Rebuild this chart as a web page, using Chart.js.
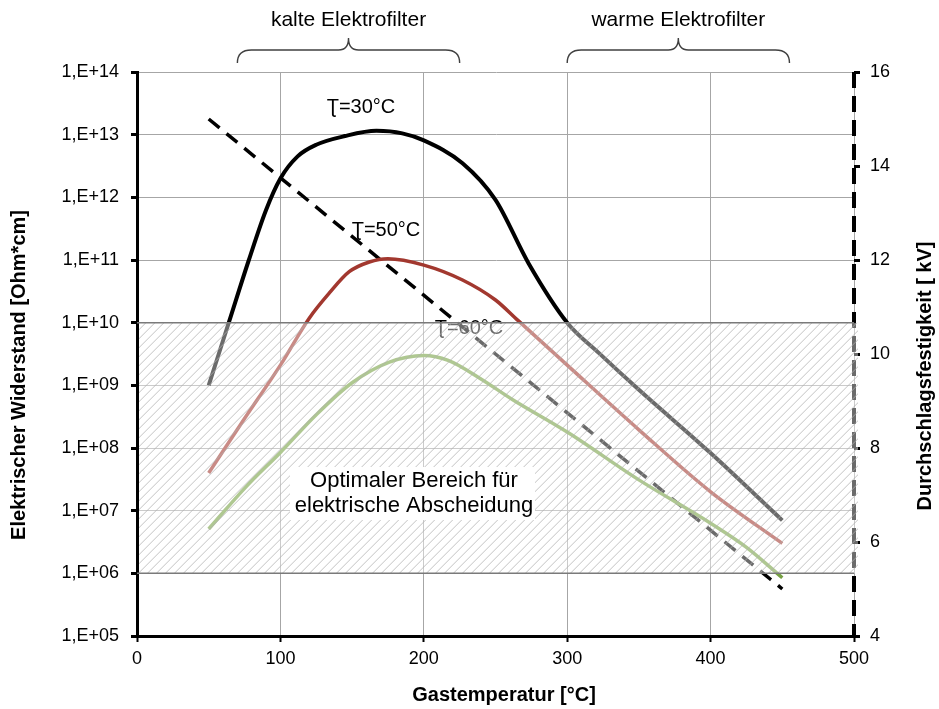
<!DOCTYPE html>
<html>
<head>
<meta charset="utf-8">
<script src="https://cdn.jsdelivr.net/npm/chart.js@4.4.1/dist/chart.umd.min.js"></script>
<style>
  body { margin: 0; background: #fff; }
  #wrap { width: 939px; height: 709px; }
</style>
</head>
<body>
<div id="wrap"><canvas id="chart" width="939" height="709"></canvas></div>
<script>
// Gastemperatur [°C] / Widerstand [Ohm*cm]
const temp30 = [50, 64, 78, 90, 100, 112, 125, 145, 167, 185, 200, 227, 250, 273, 300, 322, 350, 400, 450];
const res30  = [1.0e9, 1.0e10, 1.0e11, 6.3e11, 2.0e12, 4.5e12, 6.9e12, 9.5e12, 1.15e13, 1.05e13, 8.1e12, 3.5e12, 9.1e11, 8.9e10, 1.0e10, 3.3e9, 8.5e8, 8.3e7, 7.0e6];

const temp50 = [50, 75, 100, 120, 134, 148, 162, 175, 200, 227, 250, 265, 300, 350, 400, 450];
const res50  = [4.0e7, 2.95e8, 2.1e9, 1.17e10, 2.95e10, 6.5e10, 9.3e10, 1.05e11, 8.3e10, 4.8e10, 2.3e10, 1.12e10, 2.1e9, 1.95e8, 2.0e7, 3.0e6];

const temp60 = [50, 76, 100, 125, 150, 176, 200, 217, 239, 262, 300, 350, 400, 425, 450];
const res60  = [5.1e6, 2.4e7, 8.5e7, 3.4e8, 1.1e9, 2.35e9, 3.0e9, 2.5e9, 1.3e9, 5.9e8, 1.8e8, 3.1e7, 6.3e6, 2.6e6, 8.5e5];

// Durchschlagsfestigkeit [kV]
const tempKV = [50, 450];
const kV     = [15, 5];

const seriesLabels = ['Ʈ=30°C', 'Ʈ=50°C', 'Ʈ=60°C'];
const logTicks = [1e5, 1e6, 1e7, 1e8, 1e9, 1e10, 1e11, 1e12, 1e13, 1e14];
const optimalRange = [1e6, 1e10];
const kalteRange = [70, 225];
const warmeRange = [300, 455];

const FONT = "'Liberation Sans', Arial, sans-serif";
Chart.defaults.font.family = FONT;
Chart.defaults.color = '#000';

function pairs(xs, ys) {
    return xs.map((x, i) => ({ x: x, y: ys[i] }));
}

function brace(ctx, x1, x2) {
    const mid = (x1 + x2) / 2;
    ctx.beginPath();
    ctx.moveTo(x1, 63);
    ctx.quadraticCurveTo(x1, 50, x1 + 14, 50);
    ctx.lineTo(mid - 10, 50);
    ctx.quadraticCurveTo(mid, 50, mid, 38);
    ctx.quadraticCurveTo(mid, 50, mid + 10, 50);
    ctx.lineTo(x2 - 14, 50);
    ctx.quadraticCurveTo(x2, 50, x2, 63);
    ctx.stroke();
}

const decorations = {
    id: 'decorations',
    beforeDatasetsDraw(chart) {
        // dashed right axis line
        const ctx = chart.ctx, area = chart.chartArea;
        ctx.save();
        ctx.strokeStyle = '#000';
        ctx.lineWidth = 4;
        ctx.setLineDash([16, 8]);
        ctx.beginPath();
        ctx.moveTo(area.right, area.top);
        ctx.lineTo(area.right, area.bottom);
        ctx.stroke();
        ctx.restore();
    },
    afterDatasetsDraw(chart) {
        const ctx = chart.ctx;
        const xs = chart.scales.x, ys = chart.scales.y;
        const area = chart.chartArea;
        ctx.save();

        // label inside the shaded range (gets faded by the overlay)
        ctx.font = '20px ' + FONT;
        ctx.textAlign = 'center';
        ctx.textBaseline = 'middle';
        ctx.fillStyle = '#000';
        ctx.fillText(seriesLabels[2], 469, 328);

        // shaded optimal range
        const top = ys.getPixelForValue(optimalRange[1]);
        const bot = ys.getPixelForValue(optimalRange[0]);
        ctx.save();
        ctx.beginPath();
        ctx.rect(area.left + 2, top, area.right - area.left + 2, bot - top);
        ctx.clip();
        ctx.fillStyle = 'rgba(255,255,255,0.42)';
        ctx.fillRect(area.left + 2, top, area.right - area.left + 2, bot - top);
        ctx.strokeStyle = 'rgba(175,175,175,0.75)';
        ctx.lineWidth = 1;
        ctx.beginPath();
        for (let x = area.left - (bot - top); x < area.right + 10; x += 9) {
            ctx.moveTo(x, bot);
            ctx.lineTo(x + (bot - top), top);
        }
        ctx.stroke();
        ctx.restore();

        ctx.strokeStyle = '#7a7a7a';
        ctx.lineWidth = 1.5;
        ctx.beginPath();
        ctx.moveTo(area.left, top); ctx.lineTo(area.right, top);
        ctx.moveTo(area.left, bot); ctx.lineTo(area.right, bot);
        ctx.stroke();

        // curve labels
        ctx.fillStyle = '#000';
        ctx.fillText(seriesLabels[0], 361, 107);
        ctx.fillText(seriesLabels[1], 386, 230);

        // text box
        ctx.fillStyle = '#fff';
        ctx.fillRect(290, 467, 245, 53);
        ctx.fillStyle = '#000';
        ctx.font = '22px ' + FONT;
        ctx.fillText('Optimaler Bereich für', 414, 481);
        ctx.fillText('elektrische Abscheidung', 414, 506);

        // braces
        ctx.strokeStyle = '#404040';
        ctx.lineWidth = 1.4;
        const k1 = xs.getPixelForValue(kalteRange[0]), k2 = xs.getPixelForValue(kalteRange[1]);
        const w1 = xs.getPixelForValue(warmeRange[0]), w2 = xs.getPixelForValue(warmeRange[1]);
        brace(ctx, k1, k2);
        brace(ctx, w1, w2);
        ctx.font = '21px ' + FONT;
        ctx.fillText('kalte Elektrofilter', (k1 + k2) / 2, 20);
        ctx.fillText('warme Elektrofilter', (w1 + w2) / 2, 20);

        // axis titles
        ctx.font = 'bold 20px ' + FONT;
        ctx.fillText('Gastemperatur [°C]', 504, 695);
        ctx.save();
        ctx.translate(19, 375);
        ctx.rotate(-Math.PI / 2);
        ctx.fillText('Elektrischer Widerstand [Ohm*cm]', 0, 0);
        ctx.restore();
        ctx.save();
        ctx.translate(925, 376);
        ctx.rotate(-Math.PI / 2);
        ctx.fillText('Durchschlagsfestigkeit [ kV]', 0, 0);
        ctx.restore();

        ctx.restore();
    }
};

const ctx = document.getElementById('chart').getContext('2d');
const chart = new Chart(ctx, {
    type: 'line',
    data: {
        datasets: [
            {
                label: seriesLabels[0],
                data: pairs(temp30, res30),
                borderColor: '#000000',
                borderWidth: 4,
                yAxisID: 'y'
            },
            {
                label: seriesLabels[1],
                data: pairs(temp50, res50),
                borderColor: '#a2382f',
                borderWidth: 3.5,
                yAxisID: 'y'
            },
            {
                label: seriesLabels[2],
                data: pairs(temp60, res60),
                borderColor: '#76a043',
                borderWidth: 3.5,
                yAxisID: 'y'
            },
            {
                label: 'Durchschlagsfestigkeit',
                data: pairs(tempKV, kV),
                borderColor: '#000000',
                borderWidth: 3.5,
                borderDash: [14, 9],
                yAxisID: 'y1'
            }
        ]
    },
    options: {
        responsive: false,
        animation: false,
        cubicInterpolationMode: 'monotone',
        elements: { point: { radius: 0 } },
        layout: { padding: { top: 72 } },
        plugins: {
            legend: { display: false },
            tooltip: { enabled: false }
        },
        scales: {
            x: {
                type: 'linear',
                min: 0,
                max: 500,
                ticks: { stepSize: 100, font: { size: 18 }, padding: 6 },
                grid: { color: '#a6a6a6', lineWidth: 1, tickColor: '#000', tickLength: 6, tickWidth: 2 },
                border: { color: '#000', width: 3 },
                afterFit(scale) { scale.height = 73; }
            },
            y: {
                type: 'logarithmic',
                position: 'left',
                min: 1e5,
                max: 1e14,
                afterBuildTicks(scale) {
                    scale.ticks = logTicks.map(v => ({ value: v }));
                },
                ticks: {
                    autoSkip: false,
                    font: { size: 18 },
                    padding: 12,
                    callback(v) {
                        const e = Math.round(Math.log10(v));
                        return '1,E+' + (e < 10 ? '0' + e : e);
                    }
                },
                grid: { color: '#a6a6a6', lineWidth: 1, tickColor: '#000', tickLength: 6, tickWidth: 3 },
                border: { color: '#000', width: 3 },
                afterFit(scale) { scale.width = 137; }
            },
            y1: {
                type: 'linear',
                position: 'right',
                min: 4,
                max: 16,
                ticks: { stepSize: 2, font: { size: 18 }, padding: 10 },
                grid: { drawOnChartArea: false, tickColor: '#000', tickLength: 6, tickWidth: 3 },
                border: { display: false },
                afterFit(scale) { scale.width = 85; }
            }
        }
    },
    plugins: [decorations]
});
</script>
</body>
</html>
